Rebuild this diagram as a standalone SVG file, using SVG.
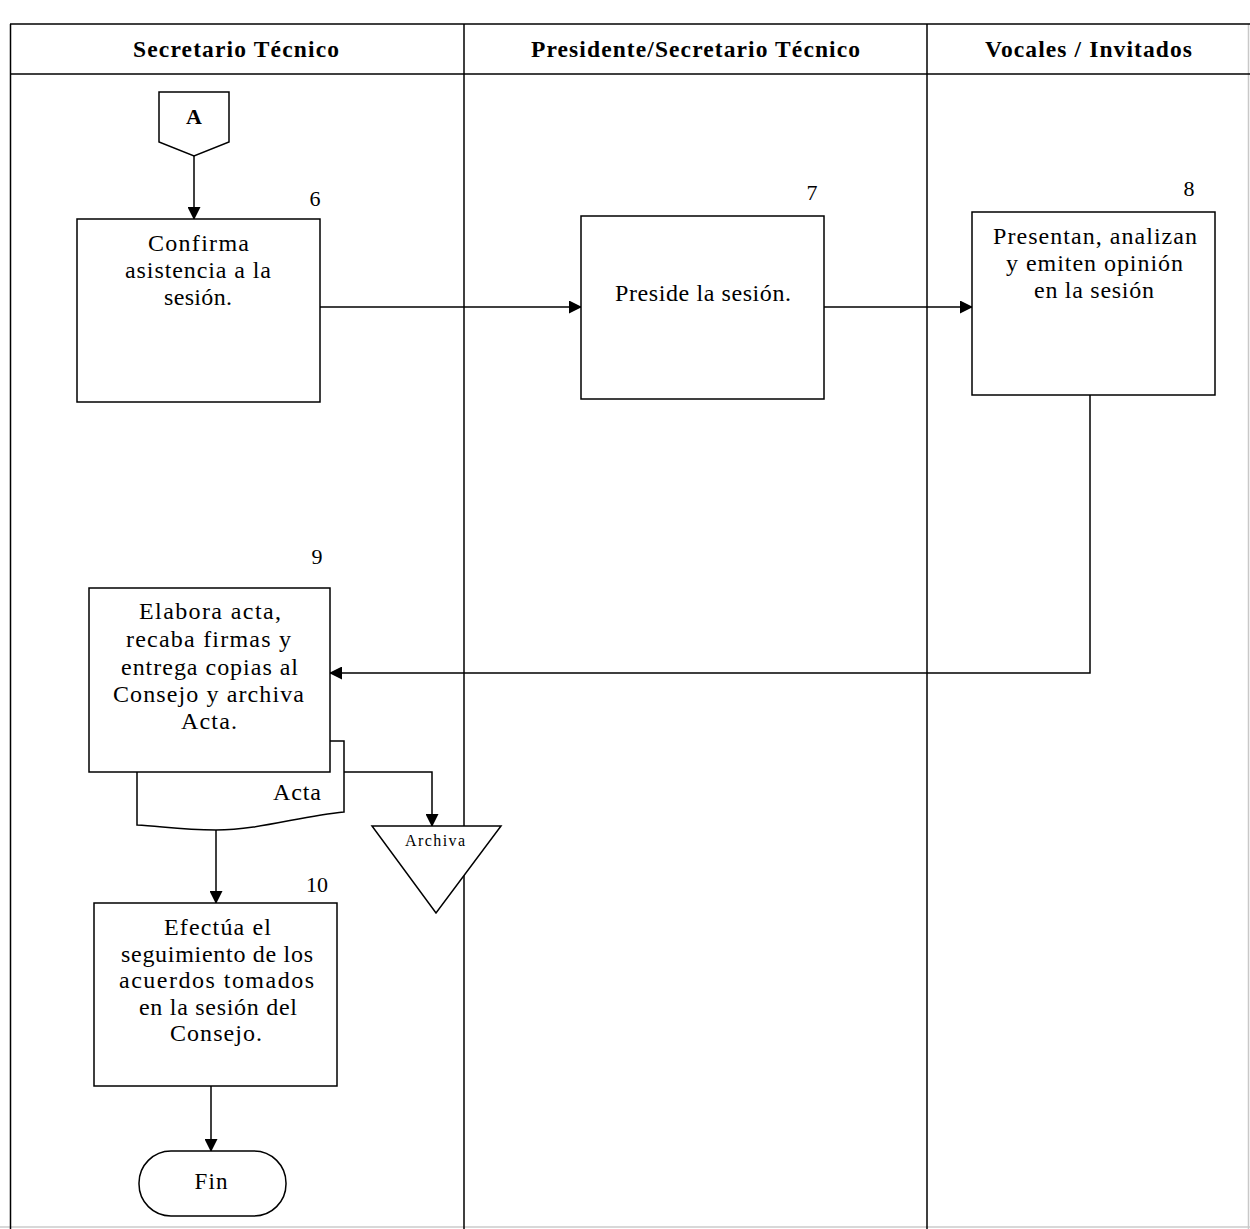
<svg xmlns="http://www.w3.org/2000/svg" width="1250" height="1229" viewBox="0 0 1250 1229">
<style>
.lane{fill:none;stroke:#000;stroke-width:1.5}
.hdr{font-family:"Liberation Serif",serif;font-weight:bold;font-size:23.5px;text-anchor:middle;fill:#000}
.shape{fill:#fff;stroke:#000;stroke-width:1.5}
.txt{font-family:"Liberation Serif",serif;font-size:24px;text-anchor:middle;fill:#000}
.num{font-family:"Liberation Serif",serif;font-size:22px;text-anchor:middle;fill:#000}
.conn{fill:none;stroke:#000;stroke-width:1.5}
</style>
<defs>
<marker id="arr" markerWidth="13" markerHeight="13" refX="12" refY="6.5" orient="auto" markerUnits="userSpaceOnUse">
<path d="M0,0 L13,6.5 L0,13 z" fill="#000"/>
</marker>
</defs>
<rect width="1250" height="1229" fill="#fff"/>
<g id="lanes">
<line x1="0" y1="1227" x2="1250" y2="1227" stroke="#d8d8d8" stroke-width="2"/>
<line x1="1248.5" y1="24" x2="1248.5" y2="1229" stroke="#c8c8c8" stroke-width="1.5"/>
<line class="lane" x1="10" y1="24" x2="1250" y2="24"/>
<line class="lane" x1="10" y1="74" x2="1250" y2="74"/>
<line class="lane" x1="10.5" y1="24" x2="10.5" y2="1229"/>
<line class="lane" x1="464" y1="24" x2="464" y2="1229"/>
<line class="lane" x1="927" y1="24" x2="927" y2="1229"/>
<text class="hdr" x="236" y="57" textLength="206">Secretario Técnico</text>
<text class="hdr" x="695.5" y="57" textLength="329">Presidente/Secretario Técnico</text>
<text class="hdr" x="1088.5" y="57" textLength="207">Vocales / Invitados</text>
</g>
<g id="connectors">
<line class="conn" x1="194" y1="156" x2="194" y2="219" marker-end="url(#arr)"/>
<line class="conn" x1="320" y1="307" x2="581" y2="307" marker-end="url(#arr)"/>
<line class="conn" x1="824" y1="307" x2="972" y2="307" marker-end="url(#arr)"/>
<polyline class="conn" points="1090,395 1090,673 330,673" marker-end="url(#arr)"/>
<polyline class="conn" points="344,772 432,772 432,826" marker-end="url(#arr)"/>
<line class="conn" x1="216" y1="830" x2="216" y2="903" marker-end="url(#arr)"/>
<line class="conn" x1="211" y1="1086" x2="211" y2="1151" marker-end="url(#arr)"/>
</g>
<g id="nodeA">
<polygon class="shape" points="159,92 229,92 229,142 194,156 159,142"/>
<text class="txt" x="194" y="124" font-weight="bold" style="font-size:22px">A</text>
</g>
<g id="node6">
<rect class="shape" x="77" y="219" width="243" height="183"/>
<text class="num" x="315" y="206">6</text>
<text class="txt" x="198.5" y="251" textLength="101">Confirma</text>
<text class="txt" x="198" y="278" textLength="146">asistencia a la</text>
<text class="txt" x="198" y="305" textLength="68">sesión.</text>
</g>
<g id="node7">
<rect class="shape" x="581" y="216" width="243" height="183"/>
<text class="num" x="812" y="200">7</text>
<text class="txt" x="703" y="301" textLength="176">Preside la sesión.</text>
</g>
<g id="node8">
<rect class="shape" x="972" y="212" width="243" height="183"/>
<text class="num" x="1189" y="196">8</text>
<text class="txt" x="1095" y="244" textLength="204">Presentan, analizan</text>
<text class="txt" x="1094.5" y="271" textLength="177">y emiten opinión</text>
<text class="txt" x="1094" y="298" textLength="120">en la sesión</text>
</g>
<g id="docActa">
<path class="shape" d="M137,741 L344,741 L344,812 C300,816 260,830 216,830 C180,830 160,826 137,825 Z"/>
<text class="txt" x="297" y="800" textLength="48">Acta</text>
</g>
<g id="node9">
<rect class="shape" x="89" y="588" width="241" height="184"/>
<text class="num" x="317" y="564">9</text>
<text class="txt" x="210" y="619" textLength="142">Elabora acta,</text>
<text class="txt" x="208.5" y="647" textLength="165">recaba firmas y</text>
<text class="txt" x="209.5" y="675" textLength="177">entrega copias al</text>
<text class="txt" x="208.5" y="702" textLength="191">Consejo y archiva</text>
<text class="txt" x="209" y="729" textLength="56">Acta.</text>
</g>
<g id="archiva">
<polygon class="shape" points="372,826 501,826 436,913"/>
<text class="txt" x="435" y="846" style="font-size:16px" textLength="60">Archiva</text>
</g>
<g id="node10">
<rect class="shape" x="94" y="903" width="243" height="183"/>
<text class="num" x="317" y="892">10</text>
<text class="txt" x="217.5" y="935" textLength="107">Efectúa el</text>
<text class="txt" x="217" y="962" textLength="192">seguimiento de los</text>
<text class="txt" x="216.5" y="988" textLength="195">acuerdos tomados</text>
<text class="txt" x="218" y="1015" textLength="158">en la sesión del</text>
<text class="txt" x="216" y="1041" textLength="92">Consejo.</text>
</g>
<g id="fin">
<rect class="shape" x="139" y="1151" width="147" height="65" rx="32" ry="32"/>
<text class="txt" x="211" y="1189" style="font-size:23px" textLength="33">Fin</text>
</g>
</svg>
